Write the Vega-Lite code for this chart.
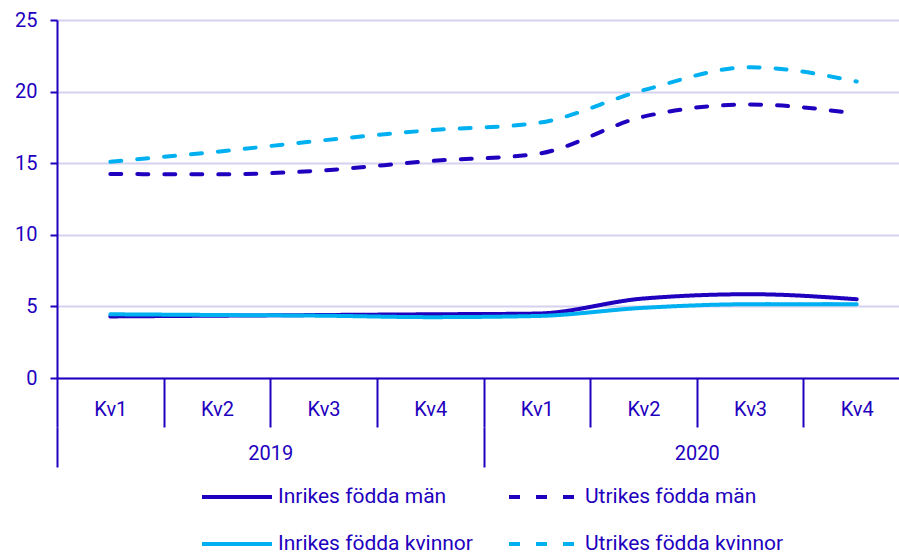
{
  "$schema": "https://vega.github.io/schema/vega-lite/v6.json",
  "width": 853,
  "height": 358,
  "autosize": {"type": "none"},
  "padding": {"left": 57, "top": 20, "right": 0, "bottom": 174},
  "background": "white",
  "config": {
    "view": {"stroke": null},
    "font": "Roboto",
    "axis": {
      "labelFont": "Roboto",
      "labelFontSize": 20,
      "labelColor": "#1E00BE",
      "domainColor": "#1E00BE",
      "tickColor": "#1E00BE",
      "domainWidth": 2,
      "tickWidth": 2,
      "titleColor": "#1E00BE"
    },
    "legend": {
      "labelFont": "Roboto",
      "labelFontSize": 21,
      "labelColor": "#1E00BE",
      "labelLimit": 400
    }
  },
  "data": {
    "values": [
      {"period": "2019 Kv1", "year": "2019", "series": "Inrikes födda män", "value": 4.3},
      {"period": "2019 Kv2", "year": "2019", "series": "Inrikes födda män", "value": 4.35},
      {"period": "2019 Kv3", "year": "2019", "series": "Inrikes födda män", "value": 4.4},
      {"period": "2019 Kv4", "year": "2019", "series": "Inrikes födda män", "value": 4.45},
      {"period": "2020 Kv1", "year": "2020", "series": "Inrikes födda män", "value": 4.5},
      {"period": "2020 Kv2", "year": "2020", "series": "Inrikes födda män", "value": 5.55},
      {"period": "2020 Kv3", "year": "2020", "series": "Inrikes födda män", "value": 5.85},
      {"period": "2020 Kv4", "year": "2020", "series": "Inrikes födda män", "value": 5.5},
      {"period": "2019 Kv1", "year": "2019", "series": "Inrikes födda kvinnor", "value": 4.45},
      {"period": "2019 Kv2", "year": "2019", "series": "Inrikes födda kvinnor", "value": 4.4},
      {"period": "2019 Kv3", "year": "2019", "series": "Inrikes födda kvinnor", "value": 4.35},
      {"period": "2019 Kv4", "year": "2019", "series": "Inrikes födda kvinnor", "value": 4.25},
      {"period": "2020 Kv1", "year": "2020", "series": "Inrikes födda kvinnor", "value": 4.33},
      {"period": "2020 Kv2", "year": "2020", "series": "Inrikes födda kvinnor", "value": 4.9},
      {"period": "2020 Kv3", "year": "2020", "series": "Inrikes födda kvinnor", "value": 5.15},
      {"period": "2020 Kv4", "year": "2020", "series": "Inrikes födda kvinnor", "value": 5.15},
      {"period": "2019 Kv1", "year": "2019", "series": "Utrikes födda män", "value": 14.25},
      {"period": "2019 Kv2", "year": "2019", "series": "Utrikes födda män", "value": 14.22},
      {"period": "2019 Kv3", "year": "2019", "series": "Utrikes födda män", "value": 14.5},
      {"period": "2019 Kv4", "year": "2019", "series": "Utrikes födda män", "value": 15.15},
      {"period": "2020 Kv1", "year": "2020", "series": "Utrikes födda män", "value": 15.65},
      {"period": "2020 Kv2", "year": "2020", "series": "Utrikes födda män", "value": 18.25},
      {"period": "2020 Kv3", "year": "2020", "series": "Utrikes födda män", "value": 19.1},
      {"period": "2020 Kv4", "year": "2020", "series": "Utrikes födda män", "value": 18.45},
      {"period": "2019 Kv1", "year": "2019", "series": "Utrikes födda kvinnor", "value": 15.1},
      {"period": "2019 Kv2", "year": "2019", "series": "Utrikes födda kvinnor", "value": 15.8},
      {"period": "2019 Kv3", "year": "2019", "series": "Utrikes födda kvinnor", "value": 16.6},
      {"period": "2019 Kv4", "year": "2019", "series": "Utrikes födda kvinnor", "value": 17.3},
      {"period": "2020 Kv1", "year": "2020", "series": "Utrikes födda kvinnor", "value": 17.8},
      {"period": "2020 Kv2", "year": "2020", "series": "Utrikes födda kvinnor", "value": 20.1},
      {"period": "2020 Kv3", "year": "2020", "series": "Utrikes födda kvinnor", "value": 21.7},
      {"period": "2020 Kv4", "year": "2020", "series": "Utrikes födda kvinnor", "value": 20.7}
    ]
  },
  "layer": [
    {
      "mark": {"type": "line", "interpolate": "monotone", "strokeWidth": 4, "strokeCap": "round"},
      "encoding": {
        "x": {
          "field": "period",
          "type": "ordinal",
          "scale": {"type": "band", "paddingInner": 0, "paddingOuter": 0},
          "axis": {
            "title": null,
            "labelAngle": 0,
            "labelExpr": "split(datum.value, ' ')[1]",
            "tickBand": "extent",
            "tickSize": 49,
            "labelPadding": -18,
            "labelBaseline": "middle",
            "grid": false
          }
        },
        "y": {
          "field": "value",
          "type": "quantitative",
          "scale": {"domain": [0, 25], "nice": false},
          "axis": {
            "title": null,
            "values": [0, 5, 10, 15, 20, 25],
            "tickSize": 7,
            "labelPadding": 13,
            "gridColor": "#D4D2F0",
            "gridWidth": 2,
            "grid": true
          }
        },
        "color": {
          "field": "series",
          "type": "nominal",
          "scale": {
            "domain": ["Inrikes födda män", "Utrikes födda män", "Inrikes födda kvinnor", "Utrikes födda kvinnor"],
            "range": ["#1E00BE", "#1E00BE", "#00B0F0", "#00B0F0"]
          },
          "legend": {
            "title": null,
            "orient": "none",
            "legendX": 143,
            "legendY": 440,
            "columns": 2,
            "direction": "horizontal",
            "symbolType": "stroke",
            "symbolSize": 4900,
            "symbolStrokeWidth": 4,
            "labelOffset": 4,
            "columnPadding": 28,
            "rowPadding": -30
          }
        },
        "strokeDash": {
          "field": "series",
          "type": "nominal",
          "scale": {
            "domain": ["Inrikes födda män", "Utrikes födda män", "Inrikes födda kvinnor", "Utrikes födda kvinnor"],
            "range": [[1, 0], [11, 16], [1, 0], [11, 16]]
          },
          "legend": {
            "title": null,
            "orient": "none",
            "legendX": 143,
            "legendY": 440,
            "columns": 2,
            "direction": "horizontal",
            "symbolType": "stroke",
            "symbolSize": 4900,
            "symbolStrokeWidth": 4,
            "labelOffset": 4,
            "columnPadding": 28,
            "rowPadding": -30
          }
        }
      }
    },
    {
      "mark": {"type": "point", "opacity": 0},
      "encoding": {
        "x": {
          "field": "year",
          "type": "ordinal",
          "scale": {"type": "band", "paddingInner": 0, "paddingOuter": 0},
          "axis": {
            "title": null,
            "labelAngle": 0,
            "orient": "bottom",
            "offset": 49,
            "domain": false,
            "tickBand": "extent",
            "tickSize": 40,
            "labelPadding": -14,
            "labelBaseline": "middle",
            "grid": false
          }
        }
      }
    }
  ],
  "resolve": {"scale": {"x": "independent"}, "axis": {"x": "independent"}}
}
